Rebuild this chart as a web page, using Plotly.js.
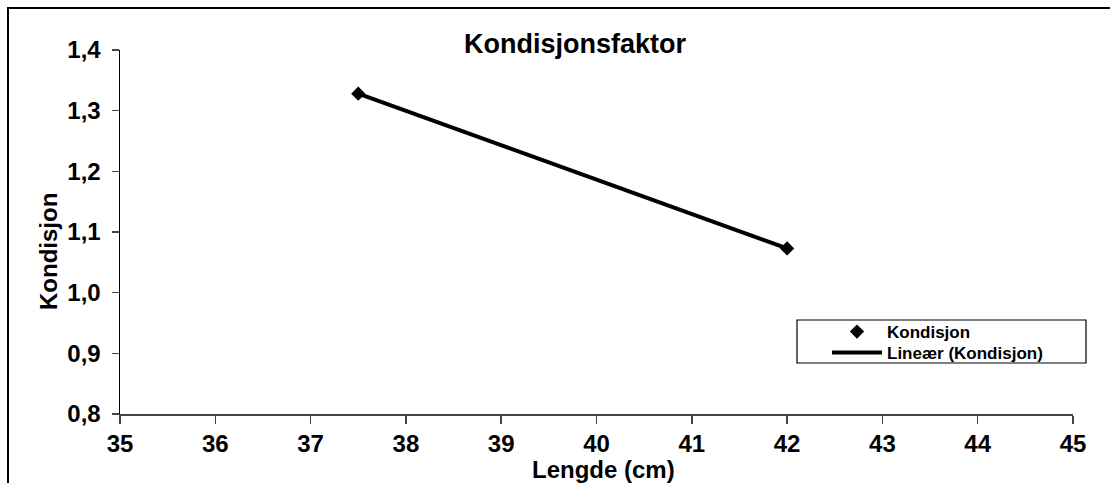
<!DOCTYPE html>
<html>
<head>
<meta charset="utf-8">
<script src="https://cdn.plot.ly/plotly-3.0.1.min.js"></script>
<style>
  html, body { margin: 0; padding: 0; background: #fff; overflow: hidden; }
  #wrap { position: relative; width: 1110px; height: 483px; }
  #frame { position: absolute; left: 7px; top: 7px; width: 1200px; height: 600px; border: 2px solid #000; box-sizing: border-box; pointer-events: none; z-index: 5; }
  #chart { position: absolute; left: 0; top: 0; width: 1110px; height: 483px; }
</style>
</head>
<body>
<div id="wrap">
  <div id="chart"></div>
  <div id="frame"></div>
</div>
<script>
// Data
const lengths = [37.5, 42];
const kondisjon = [1.328, 1.073];
const seriesName = "Kondisjon";
const trendName = "Lineær (Kondisjon)";
const chartTitle = "Kondisjonsfaktor";
const xTitle = "Lengde (cm)";
const yTitle = "Kondisjon";

// Linear regression (trendline) from data
function linfit(xs, ys) {
  const n = xs.length;
  const mx = xs.reduce((a, b) => a + b, 0) / n;
  const my = ys.reduce((a, b) => a + b, 0) / n;
  let sxy = 0, sxx = 0;
  for (let i = 0; i < n; i++) { sxy += (xs[i] - mx) * (ys[i] - my); sxx += (xs[i] - mx) ** 2; }
  const b = sxy / sxx, a = my - b * mx;
  return x => a + b * x;
}
const f = linfit(lengths, kondisjon);
const trendX = [Math.min(...lengths), Math.max(...lengths)];
const trendY = trendX.map(f);

const font = "Liberation Sans, Arial, sans-serif";

const traces = [
  {
    x: lengths, y: kondisjon, name: seriesName, type: "scatter", mode: "markers",
    marker: { symbol: "diamond", size: 11, color: "#000" }, legend: "legend"
  },
  {
    x: trendX, y: trendY, name: trendName, type: "scatter", mode: "lines",
    line: { color: "#000", width: 4 }, legend: "legend2"
  }
];

const PW = 953, PH = 364;
const legFont = { family: font, size: 17, color: "#000", weight: "bold" };
const layout = {
  width: 1110, height: 483,
  margin: { l: 120, r: 37, t: 50, b: 69 },
  paper_bgcolor: "#fff", plot_bgcolor: "#fff",
  separators: ",.",
  font: { family: font, color: "#000" },
  title: {
    text: "<b>" + chartTitle + "</b>",
    font: { family: font, size: 27, color: "#000" },
    x: 575 / 1110, xanchor: "center", y: 1 - 44 / 483, yanchor: "middle"
  },
  xaxis: {
    range: [35, 45], dtick: 1, tick0: 35,
    showgrid: false, zeroline: false,
    showline: true, linecolor: "#444", linewidth: 1.5,
    ticks: "outside", ticklen: 8, tickcolor: "#444", tickwidth: 1.5,
    tickfont: { family: font, size: 24, color: "#000", weight: "bold" },
    fixedrange: true
  },
  yaxis: {
    range: [0.8, 1.4], dtick: 0.1, tick0: 0.8, tickformat: ".1f",
    showgrid: false, zeroline: false,
    showline: true, linecolor: "#000", linewidth: 1.5,
    ticks: "outside", ticklen: 7, tickcolor: "#444", tickwidth: 1.5,
    ticklabelstandoff: 6,
    tickfont: { family: font, size: 24, color: "#000", weight: "bold" },
    fixedrange: true
  },
  annotations: [
    { text: "<b>" + yTitle + "</b>", xref: "paper", yref: "paper",
      x: (48 - 120) / PW, y: (414 - 252) / PH, xanchor: "center", yanchor: "middle",
      textangle: -90, showarrow: false, font: { family: font, size: 24, color: "#000" } },
    { text: "<b>" + xTitle + "</b>", xref: "paper", yref: "paper",
      x: (603 - 120) / PW, y: (414 - 470) / PH, xanchor: "center", yanchor: "middle",
      showarrow: false, borderpad: 0, font: { family: font, size: 24, color: "#000" } }
  ],
  showlegend: true,
  legend: {
    x: (827 - 120) / PW, xanchor: "left",
    y: (414 - 332) / PH, yanchor: "middle",
    bgcolor: "rgba(0,0,0,0)", borderwidth: 0, font: legFont, itemwidth: 50
  },
  legend2: {
    x: (827 - 120) / PW, xanchor: "left",
    y: (414 - 353) / PH, yanchor: "middle",
    bgcolor: "rgba(0,0,0,0)", borderwidth: 0, font: legFont, itemwidth: 50
  },
  shapes: [
    { type: "rect", xref: "paper", yref: "paper",
      x0: (797 - 120) / PW, x1: (1086 - 120) / PW,
      y0: (414 - 363) / PH, y1: (414 - 320) / PH,
      line: { color: "#000", width: 1.2 }, fillcolor: "rgba(0,0,0,0)" }
  ]
};

Plotly.newPlot("chart", traces, layout, { displayModeBar: false, staticPlot: true });
</script>
</body>
</html>
